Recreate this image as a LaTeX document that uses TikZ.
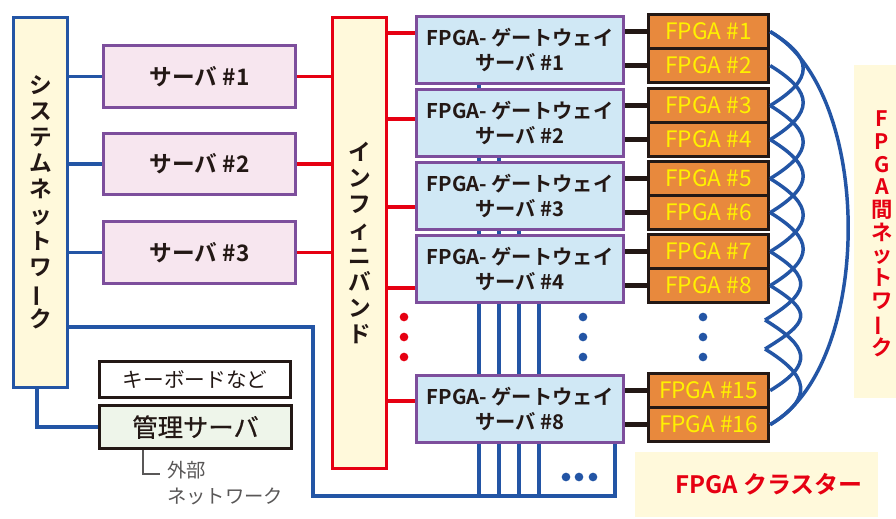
\documentclass[tikz,border=0pt]{standalone}
\usepackage{fontspec}
\usepackage{graphicx}
\setmainfont{Noto Sans CJK JP}[BoldFont={Noto Sans CJK JP Bold}]
\usetikzlibrary{calc}

\definecolor{netblue}{HTML}{2355A5}
\definecolor{ibred}{HTML}{E60012}
\definecolor{boxpurple}{HTML}{7D4E9C}
\definecolor{paleyellow}{HTML}{FFF9DB}
\definecolor{srvpink}{HTML}{F7E6EF}
\definecolor{gwblue}{HTML}{D0E8F5}
\definecolor{fpgaorange}{HTML}{E8893D}
\definecolor{fpgatext}{HTML}{FFF100}
\definecolor{ink}{HTML}{231815}
\definecolor{mgmtgreen}{HTML}{EEF5EA}
\definecolor{extgray}{HTML}{595757}

% long vowel mark turned upright for vertical text
\newcommand{\vbar}{\rotatebox[origin=c]{90}{ー}}

\begin{document}
\begin{tikzpicture}[x=0.75pt,y=-0.75pt,
  sz/.style 2 args={minimum width=#1*0.75pt, minimum height=#2*0.75pt},
  blk/.style={anchor=north west, inner sep=0pt, text=ink},
  sysbox/.style={blk, draw=netblue, fill=paleyellow, line width=2.4pt, align=center,
    font=\fontsize{17}{19.5}\selectfont\bfseries},
  ibbox/.style={blk, draw=ibred, fill=paleyellow, line width=2.4pt, align=center,
    font=\fontsize{17}{19.5}\selectfont\bfseries},
  srvbox/.style={blk, draw=boxpurple, fill=srvpink, line width=2.4pt,
    font=\fontsize{17}{20}\selectfont\bfseries},
  gwbox/.style={blk, draw=boxpurple, fill=gwblue, line width=2.4pt, align=center,
    font=\fontsize{15.2}{18.75}\selectfont\bfseries},
  fpgabox/.style={blk, draw=ink, fill=fpgaorange, line width=2.4pt, text=fpgatext,
    font=\fontsize{17}{20}\selectfont, sz={120}{34}},
  plainbox/.style={blk, draw=ink, line width=2.4pt},
  labelbox/.style={blk, fill=paleyellow},
  netln/.style={draw=netblue, line width=2.6pt},
  ibln/.style={draw=ibred, line width=2.6pt},
  fpgaln/.style={draw=ink, line width=4pt},
  arc/.style={draw=netblue, line width=2.6pt},
  dotmark/.style={circle, fill=#1, inner sep=0pt, minimum size=6.5pt},
]
\useasboundingbox[fill=white] (0,0) rectangle (896,518);

% ---- label panels
\node[labelbox, sz={243}{65}] (clpanel) at (635,452) {};
\node[text=ibred, font=\fontsize{18}{20}\selectfont\bfseries] (cltext) at (769,484) {FPGA クラスター};
\node[labelbox, sz={42}{333}] (netpanel) at (854,65) {};
\node[text=ibred, align=center, inner sep=0pt, font=\fontsize{16}{17}\selectfont\bfseries] (nettext) at (882,234)
  {F\\P\\G\\A\\間\\ネ\\ッ\\ト\\ワ\\\vbar\\ク};

% ---- system network and InfiniBand
\node[sysbox, sz={54}{370}] (sys) at (12,16) {シ\\ス\\テ\\ム\\ネ\\ッ\\ト\\ワ\\\vbar\\ク};
\node[ibbox, sz={54}{451}] (ib) at (331,16) {イ\\ン\\フ\\ィ\\ニ\\バ\\ン\\ド};

% ---- servers
\node[srvbox, sz={192}{62}] (s1) at (102,44) {サーバ \#1};
\node[srvbox, sz={192}{61}] (s2) at (102,132) {サーバ \#2};
\node[srvbox, sz={192}{62}] (s3) at (102,220) {サーバ \#3};

% ---- management
\node[plainbox, fill=white, sz={191}{36}, font=\fontsize{15.5}{18}\selectfont] (kb) at (98,360) {キーボードなど};
\node[plainbox, fill=mgmtgreen, sz={192}{43}, font=\fontsize{19}{22}\selectfont\addfontfeatures{FakeBold=0.6}] (mgmt) at (98,404) {管理サーバ};
\node[anchor=base west, inner sep=0pt, text=extgray, font=\fontsize{14.5}{18}\selectfont] (ext1) at (167,477) {外部};
\node[anchor=base west, inner sep=0pt, text=extgray, font=\fontsize{14.5}{18}\selectfont] (ext2) at (167,503) {ネットワーク};
\coordinate (extpt) at (160,474);

% ---- gateway servers
\node[gwbox, sz={207}{67}] (gw1) at (415,15)  {FPGA- ゲートウェイ\\サーバ \#1};
\node[gwbox, sz={207}{67}] (gw2) at (415,88)  {FPGA- ゲートウェイ\\サーバ \#2};
\node[gwbox, sz={207}{67}] (gw3) at (415,161) {FPGA- ゲートウェイ\\サーバ \#3};
\node[gwbox, sz={207}{67}] (gw4) at (415,234) {FPGA- ゲートウェイ\\サーバ \#4};
\node[gwbox, sz={207}{67}] (gw8) at (415,374) {FPGA- ゲートウェイ\\サーバ \#8};

% ---- FPGA boards
\node[fpgabox] (f1)  at (647,13)  {FPGA \#1};
\node[fpgabox] (f2)  at (647,47)  {FPGA \#2};
\node[fpgabox] (f3)  at (647,87)  {FPGA \#3};
\node[fpgabox] (f4)  at (647,121) {FPGA \#4};
\node[fpgabox] (f5)  at (647,160) {FPGA \#5};
\node[fpgabox] (f6)  at (647,194) {FPGA \#6};
\node[fpgabox] (f7)  at (647,233) {FPGA \#7};
\node[fpgabox] (f8)  at (647,267) {FPGA \#8};
\node[fpgabox] (f15) at (647,372) {FPGA \#15};
\node[fpgabox] (f16) at (647,406) {FPGA \#16};

% ---- system network links
\foreach \s in {s1,s2,s3} \draw[netln] (sys.east |- \s.west) -- (\s.west);
\draw[netln] (sys.south -| 37,0) |- (mgmt.west);
\coordinate (bl) at (313,496);
\coordinate (br) at (615,496);
\draw[netln] (sys.east |- 0,327) -| (bl) -- (br) -- (br |- gw8.south);
\foreach \x in {479,499,519,539} \draw[netln] (gw8.south -| \x,0) -- (bl -| \x,0);
\draw[netln] (gw1.south -| 479,0) -- (gw2.north -| 479,0);
\foreach \x in {479,499} \draw[netln] (gw2.south -| \x,0) -- (gw3.north -| \x,0);
\foreach \x in {479,499,519} \draw[netln] (gw3.south -| \x,0) -- (gw4.north -| \x,0);
\foreach \x in {479,499,519,539} \draw[netln] (gw4.south -| \x,0) -- (gw8.north -| \x,0);

% ---- external network lead
\draw[extgray, line width=1.5pt] (mgmt.south -| 143,0) |- (extpt);

% ---- InfiniBand links
\foreach \s in {s1,s2,s3} \draw[ibln] (\s.east) -- (ib.west |- \s.east);
\draw[ibln] (ib.east |- 0,33)  -- (gw1.west |- 0,33);
\draw[ibln] (ib.east |- 0,119) -- (gw2.west |- 0,119);
\draw[ibln] (ib.east |- 0,207) -- (gw3.west |- 0,207);
\draw[ibln] (ib.east |- 0,288) -- (gw4.west |- 0,288);
\draw[ibln] (ib.east |- 0,401) -- (gw8.west |- 0,401);

% ---- gateway to FPGA links
\foreach \g/\a/\b in {gw1/f1/f2, gw2/f3/f4, gw3/f5/f6, gw4/f7/f8, gw8/f15/f16} {
  \draw[fpgaln] (\g.east |- \a.west) -- (\a.west);
  \draw[fpgaln] (\g.east |- \b.west) -- (\b.west);
}

% ---- FPGA-to-FPGA network
\coordinate (d1) at (765,320);
\coordinate (d2) at (765,349);
\foreach \a/\b in {f1/f3, f2/f4, f3/f5, f4/f6, f5/f7, f6/f8} {
  \draw[arc] (\a.east) .. controls +(44,27) and +(44,-27) .. (\b.east);
}
\draw[arc] (f7.east) .. controls +(44,27) and +(44,-27) .. (d1);
\draw[arc] (f8.east) .. controls +(44,27) and +(44,-27) .. (d2);
\draw[arc] (d1) .. controls +(44,27) and +(44,-27) .. (f15.east);
\draw[arc] (d2) .. controls +(44,27) and +(44,-27) .. (f16.east);
\draw[arc] (f1.east) .. controls +(104,60) and +(104,-60) .. (f16.east);

% ---- continuation dots
\foreach \y in {317,337,357} {
  \node[dotmark=ibred] at (404,\y) {};
  \node[dotmark=netblue] at (583,\y) {};
  \node[dotmark=netblue] at (703,\y) {};
}
\foreach \x in {566,579,593} \node[dotmark=netblue] at (\x,477) {};
\end{tikzpicture}
\end{document}
